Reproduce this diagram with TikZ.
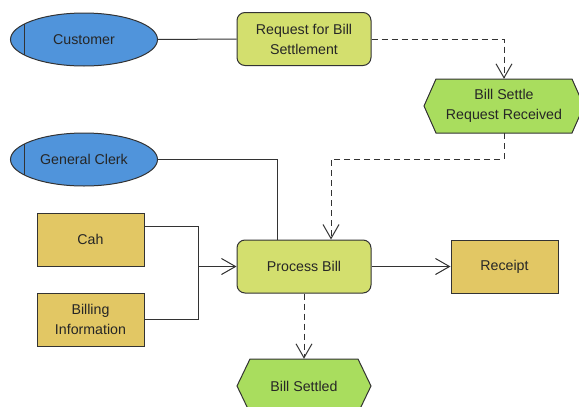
\documentclass[tikz,border=0pt]{standalone}
\usepackage{fontspec}
\setmainfont{Liberation Sans}
\usetikzlibrary{shapes.geometric,arrows.meta,calc}
\definecolor{actorblue}{HTML}{5094DB}
\definecolor{funcgreen}{HTML}{D3DF6E}
\definecolor{eventgreen}{HTML}{A9DD5E}
\definecolor{docgold}{HTML}{E2C764}
\definecolor{edge}{HTML}{333333}
\definecolor{txt}{HTML}{262626}
\tikzset{
  every node/.style={font=\fontsize{14.2}{20}\selectfont, text=txt, align=center, inner sep=0pt},
  actor/.style={ellipse, draw=edge, fill=actorblue, line width=1pt, minimum width=147pt, minimum height=53pt},
  func/.style={rectangle, rounded corners=8pt, draw=edge, fill=funcgreen, line width=1pt, minimum width=134pt, minimum height=53pt},
  doc/.style={rectangle, draw=edge, fill=docgold, line width=1pt, minimum width=107pt, minimum height=53pt},
  eventlabel/.style={rectangle, minimum height=54pt},
  hexfill/.style={draw=edge, fill=eventgreen, line width=1pt},
  conn/.style={draw=edge, line width=1pt},
  flow/.style={conn, dashed, dash pattern=on 6pt off 4pt},
  tip/.style={-{Straight Barb[length=14pt,width=16pt,line width=1pt]}},
}
\begin{document}
\begin{tikzpicture}[x=1pt,y=-1pt]
\useasboundingbox (0,0) rectangle (579,407);
% actors
\node[actor] (cust) at (84,39.5) {Customer};
\node[actor] (clerk) at (84,159.5) {General Clerk};
\draw[conn] (24,24) -- (24,55);
\draw[conn] (24,144) -- (24,175);
% functions
\node[func] (req) at (304,39) {Request for Bill\\Settlement};
\node[func] (proc) at (304,266.5) {Process Bill};
% documents
\node[doc] (cah) at (90.5,239.5) {Cah};
\node[doc] (bill) at (90.5,319.5) {Billing\\Information};
\node[doc] (rec) at (504.5,266.5) {Receipt};
% events (hexagons)
\path[hexfill] (424,106) -- (436,79) -- (572,79) -- (584,106) -- (572,133) -- (436,133) -- cycle;
\node[eventlabel, minimum width=160pt] (bsr) at (504,106) {Bill Settle\\Request Received};
\path[hexfill] (237,386) -- (250,359) -- (358,359) -- (371,386) -- (358,413) -- (250,413) -- cycle;
\node[eventlabel, minimum width=134pt] (bs) at (304,386) {Bill Settled};
% connectors
\draw[conn] (cust.east) -- (req.west);
\draw[flow, tip] (req.east) -| (bsr.north);
\draw[flow, tip] (bsr.south) -- ++(0,26) -| ([xshift=27pt]proc.north);
\draw[conn] (clerk.east) -| ([xshift=-27pt]proc.north);
\coordinate (merge) at (198,266.5);
\draw[conn] ([yshift=13.5pt]cah.east) -| (merge);
\draw[conn] (bill.east) -| (merge);
\draw[conn, tip] (merge) -- (proc.west);
\draw[conn, tip] (proc.east) -- (rec.west);
\draw[flow, tip] (proc.south) -- (bs.north);
\end{tikzpicture}
\end{document}
